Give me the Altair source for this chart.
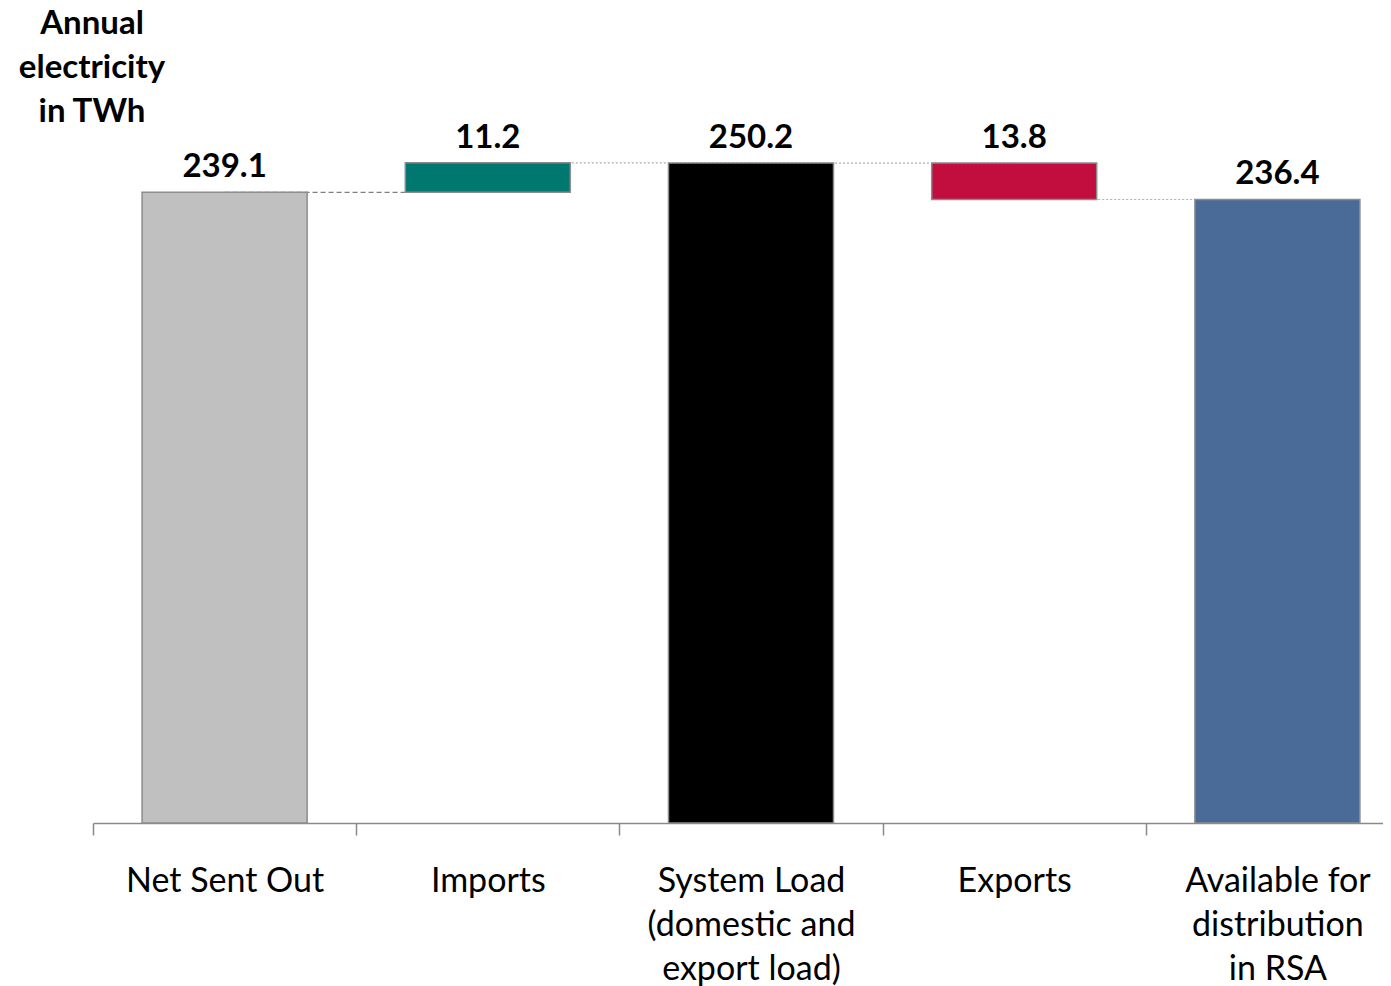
import altair as alt
import pandas as pd

categories = ["Net Sent Out", "Imports", "System Load\n(domestic and\nexport load)",
              "Exports", "Available for\ndistribution\nin RSA"]
values = [239.1, 11.2, 250.2, -13.8, 236.4]
kinds = ["total", "delta", "total", "delta", "total"]
value_labels = ["239.1", "11.2", "250.2", "13.8", "236.4"]
bar_colors = ["#C0C0C0", "#00776F", "#000000", "#C20E3E", "#4A6A98"]
connector_styles = ["dash", "dot", "dot", "dot"]
title_text = "Annual\nelectricity\nin TWh"

rows = []
running = 0.0
for cat, v, k, lab in zip(categories, values, kinds, value_labels):
    if k == "total":
        start, end = 0.0, v
    else:
        start, end = running, running + v
    running = end
    rows.append({"category": cat, "start": start, "end": end,
                 "top": max(start, end), "label": lab})
bars_df = pd.DataFrame(rows)

conn_rows = []
for i in range(len(categories) - 1):
    conn_rows.append({"from": categories[i], "to": categories[i + 1],
                      "level": rows[i]["end"], "style": connector_styles[i]})
conn_df = pd.DataFrame(conn_rows)

FONT = "Lato"
xscale = alt.Scale(domain=categories, range=[0, 1316], paddingInner=0, paddingOuter=0)
yscale = alt.Scale(domain=[0, 309], nice=False, zero=True)

xaxis = alt.Axis(title=None, labelAngle=0, tickBand="extent", tickSize=12,
                 domainColor="#8a8a8a", tickColor="#8a8a8a", domainWidth=1.5, tickWidth=1.5,
                 labelFont=FONT, labelFontSize=34, labelColor="black", labelPadding=29,
                 labelLineHeight=44, labelLimit=0, labelOverlap=False,
                 labelExpr="split(datum.label, '\\n')", grid=False)

connectors = alt.Chart(conn_df).mark_rule(strokeWidth=1.2).encode(
    x=alt.X("from:N", scale=xscale, axis=xaxis, bandPosition=0.5),
    x2=alt.X2("to:N", bandPosition=0.5),
    y=alt.Y("level:Q", scale=yscale, axis=None),
    color=alt.Color("style:N", scale=alt.Scale(domain=["dash", "dot"], range=["#7f7f7f", "#b0b0b0"]), legend=None),
    strokeDash=alt.StrokeDash("style:N", scale=alt.Scale(domain=["dash", "dot"], range=[[5, 3], [2, 2]]), legend=None),
)

bars = alt.Chart(bars_df).mark_bar(stroke="#8c8c8c", strokeWidth=1.5,
                                   width=alt.RelativeBandSize(0.627)).encode(
    x=alt.X("category:N", scale=xscale, axis=xaxis, sort=categories),
    y=alt.Y("start:Q", scale=yscale, axis=None),
    y2="end:Q",
    fill=alt.Fill("category:N", scale=alt.Scale(domain=categories, range=bar_colors), legend=None),
)

texts = alt.Chart(bars_df).mark_text(dy=-15, baseline="alphabetic", font=FONT, fontSize=33,
                                     fontWeight="bold", color="black").encode(
    x=alt.X("category:N", scale=xscale, axis=xaxis, sort=categories),
    y=alt.Y("top:Q", scale=yscale, axis=None),
    text="label:N",
)

title = alt.Chart(pd.DataFrame({"t": [title_text]})).mark_text(
    align="center", baseline="top", lineBreak="\n", lineHeight=44, font=FONT,
    fontSize=33, fontWeight="bold", color="black").encode(
    x=alt.value(-1), y=alt.value(0), text="t:N")

chart = alt.layer(connectors, bars, texts, title).properties(
    width=1290, height=815, autosize="none",
    padding={"left": 85, "top": 0, "right": 0, "bottom": 170},
).configure_view(stroke=None)

chart.save("out.html", embed_options={"renderer": "svg", "actions": False})
